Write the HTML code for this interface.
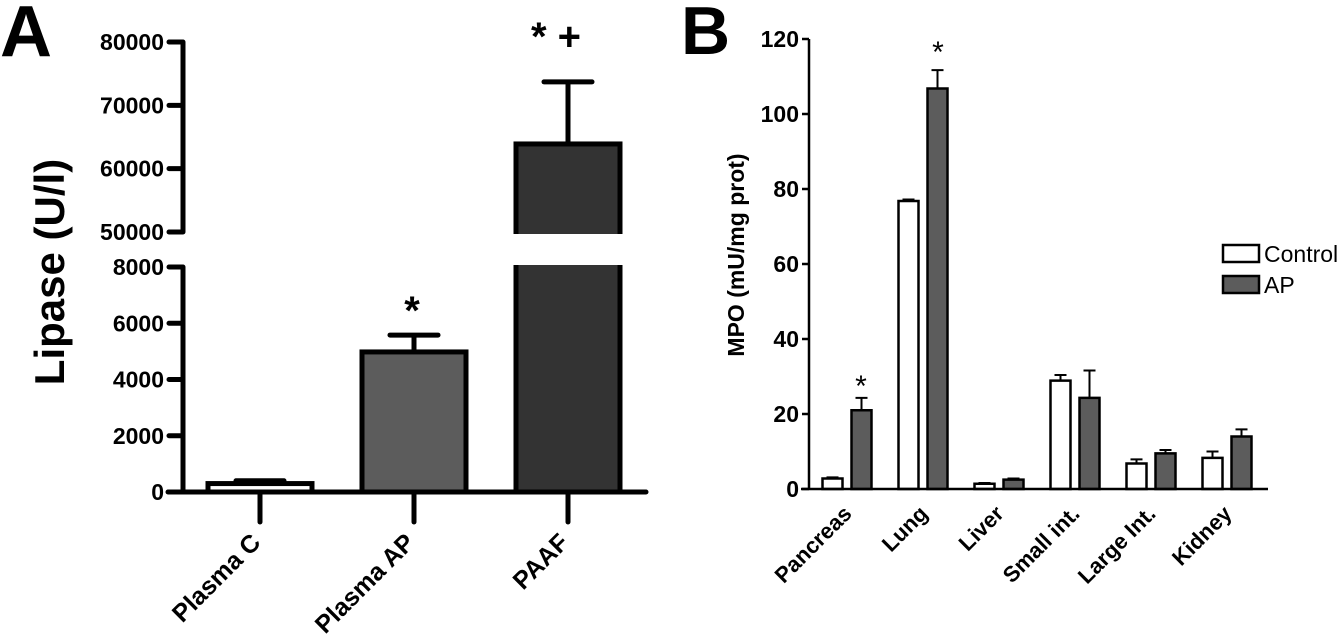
<!DOCTYPE html>
<html><head><meta charset="utf-8"><style>
html,body{margin:0;padding:0;background:#fff;}
svg{display:block;font-family:"Liberation Sans",Arial,sans-serif;}
</style></head><body>
<svg id="fig" width="1343" height="636" viewBox="0 0 1343 636"></svg>
<script>
// Panel A data
const aCategories = ["Plasma C","Plasma AP","PAAF"];
const aValues = [300, 4980, 63900];
const aErrors = [400, 5580, 73700];
const aFills = ["#ffffff","#5c5c5c","#333333"];
const aLowTicks = [0,2000,4000,6000,8000];
const aHighTicks = [50000,60000,70000,80000];
// Panel B data
const bCategories = ["Pancreas","Lung","Liver","Small int.","Large Int.","Kidney"];
const bControl = [2.8, 76.8, 1.4, 28.9, 6.8, 8.3];
const bControlErr = [3.1, 77.2, 1.6, 30.4, 7.9, 10.0];
const bAP = [21, 106.8, 2.5, 24.3, 9.5, 14];
const bAPErr = [24.3, 111.7, 2.8, 31.6, 10.4, 15.9];
const bTicks = [0,20,40,60,80,100,120];

const NS="http://www.w3.org/2000/svg";
const svg=document.getElementById('fig');
function mk(tag,attrs,parent){const e=document.createElementNS(NS,tag);for(const k in attrs)e.setAttribute(k,attrs[k]);(parent||svg).appendChild(e);return e;}

// ---- Panel A ----
const gA=mk('g',{});


function yA(v){ if(v<=8000) return 492-(v/8000)*225; return 232-((v-50000)/30000)*190; }
const axA=183, barW=104, centersA=[260,414,568];
let t=mk('text',{x:0,y:56,'font-size':72,'font-weight':'bold'},gA);t.textContent='A';


aCategories.forEach((c,i)=>{
  const cx=centersA[i],x=cx-barW/2;
  const topY=yA(aValues[i]);
  const eY=yA(aErrors[i]);
  const err=mk('line',{x1:cx,x2:cx,y1:topY,y2:eY,stroke:'#000','stroke-width':5},gA);
  
  
  const cap=mk('line',{x1:cx-24,x2:cx+24,y1:eY,y2:eY,stroke:'#000','stroke-width':5,'stroke-linecap':'round'},gA);
  
  
  const r=mk('rect',{x:x,y:topY,width:barW,height:492-topY,fill:aFills[i],stroke:'#000','stroke-width':5},gA);
  
  
  if(aValues[i]>8000){
    const gap=mk('rect',{x:x-4,y:yA(50000)+2,width:barW+8,height:yA(8000)-yA(50000)-4,fill:'#fff'},gA);
    
    
  }
  const tk=mk('line',{x1:cx,x2:cx,y1:492,y2:522,stroke:'#000','stroke-width':5,'stroke-linecap':'round'},gA);
  
  
  const lb=mk('text',{x:0,y:0,'font-size':25,'font-weight':'bold','text-anchor':'end',transform:`translate(${cx+2},${544}) rotate(-45)`},gA);
  lb.textContent=c;
  
  
});
let ax=mk('line',{x1:axA,x2:axA,y1:yA(80000),y2:yA(50000),stroke:'#000','stroke-width':5},gA);

ax=mk('line',{x1:axA,x2:axA,y1:yA(8000),y2:492,stroke:'#000','stroke-width':5},gA);

ax=mk('line',{x1:168,x2:646,y1:492,y2:492,stroke:'#000','stroke-width':5,'stroke-linecap':'round'},gA);

aLowTicks.concat(aHighTicks).forEach(v=>{
  const y=yA(v);
  const tk=mk('line',{x1:169,x2:axA,y1:y,y2:y,stroke:'#000','stroke-width':5,'stroke-linecap':'round'},gA);
  
  const lb=mk('text',{x:164,y:y+8,'font-size':23,'font-weight':'bold','text-anchor':'end'},gA);
  lb.textContent=v;
  
});
t=mk('text',{x:0,y:0,'font-size':42,'font-weight':'bold','text-anchor':'middle',transform:'translate(64,272) rotate(-90)'},gA);
t.textContent='Lipase (U/l)';

t=mk('text',{x:412,y:324,'font-size':40,'font-weight':'bold','text-anchor':'middle'},gA);t.textContent='*';

t=mk('text',{x:556,y:50,'font-size':40,'font-weight':'bold','text-anchor':'middle'},gA);t.textContent='* +';


// ---- Panel B ----
const gB=mk('g',{});


function yB(v){return 489-(v/120)*(489-39);}
const axB=809, bw=20, groupStart=847, groupStep=76;
t=mk('text',{x:681,y:54,'font-size':68,'font-weight':'bold'},gB);t.textContent='B';

function barB(cx,v,e,fill,name){
  const top=yB(v),ey=yB(e);
  const l=mk('line',{x1:cx,x2:cx,y1:top,y2:ey,stroke:'#000','stroke-width':2},gB);
  
  const c=mk('line',{x1:cx-6,x2:cx+6,y1:ey,y2:ey,stroke:'#000','stroke-width':2},gB);
  
  const r=mk('rect',{x:cx-bw/2,y:top,width:bw,height:489-top,fill:fill,stroke:'#000','stroke-width':2.5},gB);
  
}
bCategories.forEach((c,i)=>{
  const g=groupStart+i*groupStep;
  barB(g-14.5,bControl[i],bControlErr[i],'#ffffff','bar-control-'+i);
  barB(g+14.5,bAP[i],bAPErr[i],'#5c5c5c','bar-ap-'+i);
  const lb=mk('text',{x:0,y:0,'font-size':22,'font-weight':'bold','text-anchor':'end',transform:`translate(${g+6},${515}) rotate(-45)`},gB);
  lb.textContent=c;
  
});
ax=mk('line',{x1:axB,x2:axB,y1:yB(120),y2:489,stroke:'#000','stroke-width':2.5},gB);

ax=mk('line',{x1:axB-8,x2:1268,y1:489,y2:489,stroke:'#000','stroke-width':2.5},gB);

bTicks.forEach(v=>{
  const y=yB(v);
  const tk=mk('line',{x1:axB-7,x2:axB,y1:y,y2:y,stroke:'#000','stroke-width':2.5},gB);
  
  const lb=mk('text',{x:axB-10,y:y+8,'font-size':23,'font-weight':'bold','text-anchor':'end'},gB);
  lb.textContent=v;
  
});
t=mk('text',{x:0,y:0,'font-size':23,'font-weight':'bold','text-anchor':'middle',transform:'translate(744,255) rotate(-90)'},gB);
t.textContent='MPO (mU/mg prot)';

t=mk('text',{x:861,y:396,'font-size':30,'text-anchor':'middle'},gB);t.textContent='*';

t=mk('text',{x:938,y:62,'font-size':30,'text-anchor':'middle'},gB);t.textContent='*';

let r=mk('rect',{x:1223,y:245,width:36,height:17,fill:'#fff',stroke:'#000','stroke-width':2.5},gB);

r=mk('rect',{x:1223,y:276,width:36,height:17,fill:'#5c5c5c',stroke:'#000','stroke-width':2.5},gB);

t=mk('text',{x:1264,y:262,'font-size':23},gB);t.textContent='Control';

t=mk('text',{x:1264,y:293,'font-size':23},gB);t.textContent='AP';

</script>
</body></html>
